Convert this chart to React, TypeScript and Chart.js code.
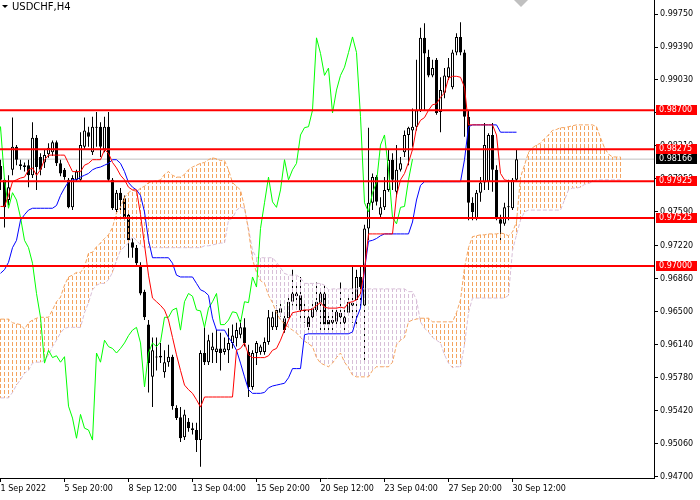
import { useEffect, useRef } from 'react';
import { Chart, registerables } from 'chart.js';

Chart.register(...registerables);

// USDCHF H4, 1 Sep - 30 Sep 2022, one entry per bar
const xTickIdx = [0, 16, 32, 48, 64, 80, 96, 112, 128];
const xTickText = ['1 Sep 2022', '5 Sep 20:00', '8 Sep 12:00', '13 Sep 04:00', '15 Sep 20:00', '20 Sep 12:00', '23 Sep 04:00', '27 Sep 20:00', '30 Sep 12:00'];
const yTicks = [0.9975, 0.9939, 0.9903, 0.9867, 0.9831, 0.9795, 0.9759, 0.9722, 0.9686, 0.965, 0.9614, 0.9578, 0.9542, 0.9506, 0.947];

const levels = [0.987, 0.98275, 0.97925, 0.97525, 0.97];
const bid = 0.98166;

const opens = [
  0.9809, 0.9794, 0.9772, 0.9805, 0.9830, 0.9811, 0.9810, 0.9810, 0.9799, 0.9840,
  0.9819, 0.9813, 0.9822, 0.9824, 0.9835, 0.9812, 0.9805, 0.9794, 0.9764, 0.9794,
  0.9794, 0.9830, 0.9846, 0.9824, 0.9851, 0.9852, 0.9827, 0.9852, 0.9794, 0.9761,
  0.9780, 0.9774, 0.9756, 0.9726, 0.9720, 0.9701, 0.9672, 0.9636, 0.9579, 0.9601,
  0.9600, 0.9584, 0.9595, 0.9601, 0.9545, 0.9535, 0.9513, 0.9530, 0.9523, 0.9521,
  0.9510, 0.9605, 0.9595, 0.9608, 0.9606, 0.9610, 0.9606, 0.9608, 0.9616, 0.9621,
  0.9625, 0.9633, 0.9606, 0.9568, 0.9605, 0.9606, 0.9606, 0.9617, 0.9633, 0.9633,
  0.9649, 0.9643, 0.9643, 0.9661, 0.9670, 0.9668, 0.9652, 0.9644, 0.9644, 0.9652,
  0.9660, 0.9670, 0.9641, 0.9638, 0.9639, 0.9644, 0.9644, 0.9649, 0.9657, 0.9663,
  0.9688, 0.9657, 0.9741, 0.9769, 0.9797, 0.9756, 0.9764, 0.9783, 0.9816, 0.9781,
  0.9805, 0.9824, 0.9843, 0.9848, 0.9852, 0.9870, 0.9949, 0.9928, 0.9908, 0.9925,
  0.9868, 0.9889, 0.9906, 0.9895, 0.9933, 0.9950, 0.9933, 0.9863, 0.9769, 0.9752,
  0.9780, 0.9791, 0.9792, 0.9843, 0.9805, 0.9751, 0.9746, 0.9764, 0.9763, 0.9794,
];
const highs = [
  0.9816, 0.9796, 0.9799, 0.9862, 0.9832, 0.9816, 0.9813, 0.9816, 0.9857, 0.9843,
  0.9823, 0.9827, 0.9834, 0.9837, 0.9837, 0.9816, 0.9807, 0.9796, 0.9799, 0.9805,
  0.9846, 0.9862, 0.9852, 0.9863, 0.9868, 0.9857, 0.9863, 0.9868, 0.9796, 0.9783,
  0.9785, 0.9777, 0.9759, 0.9730, 0.9723, 0.9704, 0.9674, 0.9641, 0.9622, 0.9622,
  0.9616, 0.9608, 0.9614, 0.9603, 0.9548, 0.9546, 0.9543, 0.9534, 0.9529, 0.9529,
  0.9608, 0.9633, 0.9625, 0.9627, 0.9630, 0.9627, 0.9622, 0.9632, 0.9636, 0.9638,
  0.9641, 0.9643, 0.9614, 0.9608, 0.9618, 0.9614, 0.9622, 0.9652, 0.9650, 0.9657,
  0.9660, 0.9646, 0.9666, 0.9696, 0.9681, 0.9688, 0.9660, 0.9652, 0.9660, 0.9682,
  0.9674, 0.9679, 0.9646, 0.9652, 0.9655, 0.9682, 0.9652, 0.9665, 0.9699, 0.9696,
  0.9699, 0.9745, 0.9851, 0.9801, 0.9799, 0.9775, 0.9797, 0.9827, 0.9823, 0.9832,
  0.9819, 0.9848, 0.9852, 0.9872, 0.9925, 0.9960, 0.9965, 0.9936, 0.9925, 0.9927,
  0.9906, 0.9916, 0.9927, 0.9936, 0.9954, 0.9966, 0.9936, 0.9870, 0.9775, 0.9783,
  0.9797, 0.9856, 0.9845, 0.9856, 0.9810, 0.9756, 0.9769, 0.9794, 0.9796, 0.9827,
];
const lows = [
  0.9783, 0.9742, 0.9766, 0.9799, 0.9810, 0.9805, 0.9803, 0.9786, 0.9796, 0.9783,
  0.9799, 0.9807, 0.9818, 0.9820, 0.9809, 0.9798, 0.9794, 0.9763, 0.9761, 0.9792,
  0.9792, 0.9827, 0.9830, 0.9821, 0.9830, 0.9819, 0.9824, 0.9792, 0.9761, 0.9759,
  0.9761, 0.9750, 0.9709, 0.9709, 0.9700, 0.9668, 0.9641, 0.9562, 0.9546, 0.9586,
  0.9594, 0.9578, 0.9590, 0.9543, 0.9532, 0.9508, 0.9510, 0.9519, 0.9516, 0.9497,
  0.9481, 0.9592, 0.9592, 0.9594, 0.9594, 0.9586, 0.9603, 0.9594, 0.9610, 0.9612,
  0.9621, 0.9612, 0.9557, 0.9565, 0.9592, 0.9603, 0.9603, 0.9614, 0.9630, 0.9630,
  0.9645, 0.9627, 0.9641, 0.9657, 0.9652, 0.9639, 0.9638, 0.9630, 0.9641, 0.9650,
  0.9630, 0.9628, 0.9630, 0.9630, 0.9636, 0.9633, 0.9627, 0.9646, 0.9638, 0.9633,
  0.9655, 0.9594, 0.9728, 0.9761, 0.9766, 0.9753, 0.9761, 0.9781, 0.9783, 0.9775,
  0.9803, 0.9819, 0.9810, 0.9830, 0.9848, 0.9868, 0.9870, 0.9906, 0.9906, 0.9865,
  0.9846, 0.9883, 0.9903, 0.9893, 0.9930, 0.9930, 0.9841, 0.9750, 0.9750, 0.9750,
  0.9770, 0.9783, 0.9783, 0.9781, 0.9750, 0.9728, 0.9744, 0.9750, 0.9761, 0.9792,
];
const closes = [
  0.9794, 0.9764, 0.9786, 0.9830, 0.9816, 0.9809, 0.9808, 0.9799, 0.9840, 0.9808,
  0.9805, 0.9821, 0.9829, 0.9835, 0.9812, 0.9801, 0.9797, 0.9764, 0.9796, 0.9803,
  0.9832, 0.9848, 0.9841, 0.9852, 0.9852, 0.9830, 0.9852, 0.9794, 0.9763, 0.9780,
  0.9772, 0.9753, 0.9728, 0.9720, 0.9703, 0.9670, 0.9644, 0.9594, 0.9608, 0.9600,
  0.9602, 0.9595, 0.9601, 0.9547, 0.9534, 0.9512, 0.9538, 0.9523, 0.9521, 0.9510,
  0.9605, 0.9595, 0.9619, 0.9612, 0.9610, 0.9605, 0.9610, 0.9616, 0.9624, 0.9630,
  0.9633, 0.9616, 0.9568, 0.9605, 0.9616, 0.9612, 0.9617, 0.9644, 0.9644, 0.9652,
  0.9654, 0.9630, 0.9661, 0.9670, 0.9667, 0.9652, 0.9651, 0.9633, 0.9654, 0.9661,
  0.9670, 0.9636, 0.9636, 0.9641, 0.9650, 0.9649, 0.9638, 0.9661, 0.9660, 0.9688,
  0.9677, 0.9741, 0.9769, 0.9797, 0.9770, 0.9764, 0.9783, 0.9816, 0.9794, 0.9805,
  0.9812, 0.9843, 0.9851, 0.9852, 0.9870, 0.9949, 0.9932, 0.9908, 0.9916, 0.9867,
  0.9892, 0.9908, 0.9917, 0.9933, 0.9950, 0.9933, 0.9863, 0.9769, 0.9759, 0.9780,
  0.9791, 0.9832, 0.9843, 0.9805, 0.9753, 0.9746, 0.9764, 0.9765, 0.9794, 0.98166,
];

// Ichimoku (9, 26, 52)
const tenkan = [
  0.9765, 0.9765, 0.9777, 0.9792, 0.9794, 0.9796, 0.9797, 0.9805, 0.9807, 0.9799,
  0.9805, 0.9816, 0.9821, 0.9821, 0.9821, 0.9821, 0.9821, 0.9812, 0.9803, 0.9803,
  0.9803, 0.9810, 0.9812, 0.9816, 0.9816, 0.9816, 0.9827, 0.9823, 0.9813, 0.9807,
  0.9799, 0.9794, 0.9786, 0.9783, 0.9783, 0.9756, 0.9723, 0.9690, 0.9665, 0.9661,
  0.9657, 0.9652, 0.9641, 0.9622, 0.9603, 0.9586, 0.9570, 0.9565, 0.9561, 0.9554,
  0.9546, 0.9557, 0.9557, 0.9557, 0.9557, 0.9557, 0.9557, 0.9557, 0.9557, 0.9608,
  0.9610, 0.9616, 0.9603, 0.9600, 0.9600, 0.9600, 0.9600, 0.9602, 0.9608, 0.9610,
  0.9619, 0.9630, 0.9641, 0.9649, 0.9650, 0.9651, 0.9652, 0.9652, 0.9653, 0.9657,
  0.9660, 0.9655, 0.9654, 0.9654, 0.9654, 0.9655, 0.9654, 0.9660, 0.9661, 0.9663,
  0.9670, 0.9696, 0.9735, 0.9735, 0.9735, 0.9735, 0.9735, 0.9735, 0.9735, 0.9777,
  0.9794, 0.9801, 0.9813, 0.9827, 0.9851, 0.9859, 0.9862, 0.9870, 0.9876, 0.9877,
  0.9884, 0.9889, 0.9905, 0.9907, 0.9907, 0.9906, 0.9895, 0.9854, 0.9854, 0.9854,
  0.9854, 0.9854, 0.9854, 0.9854, 0.9843, 0.9801, 0.9794, 0.9793, 0.9793, 0.9793,
];
const kijun = [
  0.9692, 0.9696, 0.9704, 0.9720, 0.9728, 0.9750, 0.9756, 0.9761, 0.9763, 0.9763,
  0.9763, 0.9763, 0.9763, 0.9763, 0.9766, 0.9777, 0.9785, 0.9792, 0.9794, 0.9794,
  0.9797, 0.9799, 0.9801, 0.9805, 0.9807, 0.9808, 0.9810, 0.9812, 0.9816, 0.9816,
  0.9812, 0.9803, 0.9791, 0.9786, 0.9783, 0.9777, 0.9759, 0.9728, 0.9709, 0.9709,
  0.9709, 0.9709, 0.9709, 0.9703, 0.9690, 0.9688, 0.9688, 0.9688, 0.9688, 0.9681,
  0.9674, 0.9672, 0.9668, 0.9643, 0.9630, 0.9630, 0.9630, 0.9622, 0.9616, 0.9608,
  0.9594, 0.9579, 0.9565, 0.9561, 0.9561, 0.9561, 0.9562, 0.9567, 0.9569, 0.9570,
  0.9571, 0.9572, 0.9578, 0.9588, 0.9588, 0.9588, 0.9625, 0.9626, 0.9626, 0.9626,
  0.9626, 0.9626, 0.9626, 0.9626, 0.9626, 0.9626, 0.9626, 0.9626, 0.9628, 0.9643,
  0.9654, 0.9696, 0.9727, 0.9728, 0.9730, 0.9733, 0.9735, 0.9735, 0.9735, 0.9735,
  0.9735, 0.9735, 0.9735, 0.9748, 0.9772, 0.9788, 0.9792, 0.9792, 0.9792, 0.9792,
  0.9792, 0.9792, 0.9792, 0.9792, 0.9792, 0.9792, 0.9816, 0.9852, 0.9854, 0.9854,
  0.9854, 0.9854, 0.9854, 0.9854, 0.9854, 0.9846, 0.9846, 0.9846, 0.9846, 0.9846,
];
// senkou spans run 26 bars past the last candle
const spanA = [
  0.9642, 0.9642, 0.9642, 0.9638, 0.9637, 0.9636, 0.9631, 0.9638, 0.9641, 0.9643,
  0.9644, 0.9644, 0.9644, 0.9652, 0.9661, 0.9666, 0.9679, 0.9688, 0.9690, 0.9693,
  0.9693, 0.9699, 0.9714, 0.9715, 0.9721, 0.9725, 0.9730, 0.9734, 0.9742, 0.9758,
  0.9764, 0.9775, 0.9780, 0.9783, 0.9781, 0.9785, 0.9787, 0.9791, 0.9792, 0.9793,
  0.9794, 0.9800, 0.9803, 0.9799, 0.9797, 0.9797, 0.9800, 0.9805, 0.9808, 0.9810,
  0.9812, 0.9813, 0.9816, 0.9818, 0.9817, 0.9815, 0.9815, 0.9805, 0.9791, 0.9787,
  0.9783, 0.9764, 0.9739, 0.9707, 0.9693, 0.9684, 0.9681, 0.9668, 0.9660, 0.9649,
  0.9641, 0.9637, 0.9633, 0.9630, 0.9627, 0.9622, 0.9618, 0.9615, 0.9612, 0.9600,
  0.9594, 0.9592, 0.9590, 0.9594, 0.9600, 0.9605, 0.9595, 0.9589, 0.9581, 0.9579,
  0.9579, 0.9579, 0.9579, 0.9586, 0.9590, 0.9590, 0.9590, 0.9590, 0.9595, 0.9614,
  0.9619, 0.9622, 0.9639, 0.9641, 0.9642, 0.9643, 0.9643, 0.9643, 0.9639, 0.9639,
  0.9639, 0.9639, 0.9639, 0.9639, 0.9649, 0.9663, 0.9698, 0.9720, 0.9732, 0.9733,
  0.9734, 0.9734, 0.9735, 0.9735, 0.9735, 0.9736, 0.9735, 0.9733, 0.9737, 0.9748,
  0.9797, 0.9810, 0.9824, 0.9829, 0.9832, 0.9834, 0.9839, 0.9843, 0.9848, 0.9849,
  0.9851, 0.9851, 0.9852, 0.9853, 0.9854, 0.9854, 0.9854, 0.9854, 0.9854, 0.9852,
  0.9840, 0.9829, 0.9822, 0.9819, 0.9819, 0.9819,
];
const spanB = [
  0.9556, 0.9556, 0.9556, 0.9562, 0.9570, 0.9576, 0.9583, 0.9586, 0.9594, 0.9595,
  0.9595, 0.9597, 0.9603, 0.9612, 0.9619, 0.9627, 0.9632, 0.9633, 0.9633, 0.9633,
  0.9633, 0.9649, 0.9660, 0.9674, 0.9679, 0.9681, 0.9681, 0.9685, 0.9693, 0.9706,
  0.9717, 0.9721, 0.9725, 0.9732, 0.9728, 0.9723, 0.9720, 0.9720, 0.9720, 0.9720,
  0.9720, 0.9720, 0.9720, 0.9720, 0.9720, 0.9720, 0.9720, 0.9720, 0.9720, 0.9720,
  0.9720, 0.9722, 0.9722, 0.9723, 0.9724, 0.9725, 0.9725, 0.9750, 0.9752, 0.9761,
  0.9764, 0.9763, 0.9741, 0.9717, 0.9709, 0.9709, 0.9709, 0.9709, 0.9709, 0.9704,
  0.9698, 0.9692, 0.9690, 0.9690, 0.9690, 0.9687, 0.9681, 0.9681, 0.9681, 0.9681,
  0.9681, 0.9679, 0.9674, 0.9675, 0.9675, 0.9675, 0.9675, 0.9675, 0.9675, 0.9675,
  0.9675, 0.9675, 0.9675, 0.9675, 0.9675, 0.9675, 0.9675, 0.9675, 0.9675, 0.9675,
  0.9675, 0.9675, 0.9672, 0.9672, 0.9663, 0.9639, 0.9632, 0.9628, 0.9622, 0.9619,
  0.9616, 0.9603, 0.9594, 0.9589, 0.9590, 0.9590, 0.9614, 0.9649, 0.9665, 0.9665,
  0.9665, 0.9665, 0.9665, 0.9665, 0.9665, 0.9665, 0.9665, 0.9668, 0.9717, 0.9734,
  0.9750, 0.9759, 0.9761, 0.9761, 0.9761, 0.9761, 0.9761, 0.9761, 0.9761, 0.9761,
  0.9761, 0.9772, 0.9783, 0.9785, 0.9785, 0.9786, 0.9789, 0.9790, 0.9792, 0.9794,
  0.9794, 0.9794, 0.9794, 0.9794, 0.9794, 0.9794,
];
const chikouShift = 26;

const FONT = "'DejaVu Sans', sans-serif";

function dashPattern(ctx: CanvasRenderingContext2D, color: string) {
  const c = document.createElement('canvas');
  c.width = 1;
  c.height = 6;
  const g = c.getContext('2d')!;
  g.fillStyle = color;
  g.fillRect(0, 0, 1, 4);
  return ctx.createPattern(c, 'repeat')!;
}

// keep the plot flush with the top edge and the axes a fixed size
const fixSize = (size: 'width' | 'height', px: number) => (s: any) => {
  s[size] = px;
  s.paddingTop = 0;
  s.paddingBottom = 0;
  s.paddingLeft = 0;
  s.paddingRight = 0;
};

const overlay = {
  id: 'overlay',
  afterDraw(chart: any) {
    const { ctx, scales } = chart;
    const y = scales.y;
    const x = scales.x;
    ctx.save();

    // symbol caption
    ctx.fillStyle = '#000';
    ctx.beginPath();
    ctx.moveTo(2, 5);
    ctx.lineTo(8, 5);
    ctx.lineTo(5, 8);
    ctx.closePath();
    ctx.fill();
    ctx.font = `10px ${FONT}`;
    ctx.textBaseline = 'middle';
    ctx.fillText('USDCHF,H4', 12, 7);

    // chart shift marker
    const sx = Math.round(x.getPixelForValue(closes.length));
    ctx.fillStyle = '#c0c0c0';
    ctx.beginPath();
    ctx.moveTo(sx - 7, 0);
    ctx.lineTo(sx + 7, 0);
    ctx.lineTo(sx, 7);
    ctx.closePath();
    ctx.fill();

    // price tags on the axis
    ctx.font = `8px ${FONT}`;
    const tag = (v: number, bg: string) => {
      const py = Math.round(y.getPixelForValue(v));
      ctx.fillStyle = bg;
      ctx.fillRect(656, py - 5, 41, 10);
      ctx.fillStyle = '#fff';
      ctx.fillText(v.toFixed(5), 659, py);
    };
    levels.forEach((v) => tag(v, '#ff0000'));
    tag(bid, '#000000');
    ctx.restore();
  },
};

export default function App() {
  const canvasRef = useRef<HTMLCanvasElement>(null);
  const chartRef = useRef<Chart | null>(null);

  useEffect(() => {
    document.body.style.margin = '0';
    if (!canvasRef.current) return;
    const ctx = canvasRef.current.getContext('2d');
    if (!ctx) return;
    if (chartRef.current) chartRef.current.destroy();

    const up = dashPattern(ctx, '#f4a460');
    const down = dashPattern(ctx, '#d8bfd8');

    const line = (data: number[], color: string, shift: number, order: number, dash: number[] = []) => ({
      type: 'line' as const,
      data: data.map((v, i) => ({ x: i + shift, y: v })),
      borderColor: color,
      borderWidth: 1,
      borderDash: dash,
      pointRadius: 0,
      tension: 0,
      fill: false,
      order,
    });

    const datasets: any[] = [
      ...levels.map((v) => ({
        type: 'line',
        data: [{ x: -1, y: v }, { x: 165, y: v }],
        borderColor: '#ff0000',
        borderWidth: 2,
        pointRadius: 0,
        clip: 0,
        order: 0,
      })),
      {
        type: 'line',
        data: [{ x: -1, y: bid }, { x: 165, y: bid }],
        borderColor: '#c0c0c0',
        borderWidth: 1,
        pointRadius: 0,
        clip: 0,
        order: 10,
      },
      line(tenkan, '#ff0000', 0, 2),
      line(kijun, '#0000ff', 0, 2),
      line(closes, '#00ff00', -chikouShift, 2),
      line(spanA, '#f4a460', 0, 6, [4, 2]),
      line(spanB, '#d8bfd8', 0, 6, [4, 2]),
      {
        type: 'bar',
        data: spanA.map((a, i) => ({ x: i, y: [a, spanB[i]] })),
        backgroundColor: spanA.map((a, i) => (a >= spanB[i] ? up : down)),
        borderWidth: 0,
        barThickness: 1,
        grouped: false,
        inflateAmount: 0,
        order: 7,
      },
      {
        type: 'bar',
        data: closes.map((c, i) => ({ x: i, y: [opens[i], c] })),
        backgroundColor: closes.map((c, i) => (c >= opens[i] ? '#ffffff' : '#000000')),
        borderColor: '#000000',
        borderWidth: 1,
        borderSkipped: false,
        barThickness: 3,
        minBarLength: 1,
        grouped: false,
        inflateAmount: 0,
        order: 8,
      },
      {
        type: 'bar',
        data: closes.map((_, i) => ({ x: i, y: [lows[i], highs[i]] })),
        backgroundColor: '#000000',
        borderWidth: 0,
        barThickness: 1,
        grouped: false,
        inflateAmount: 0,
        order: 9,
      },
    ];

    chartRef.current = new Chart(ctx, {
      type: 'line',
      data: { datasets },
      options: {
        animation: false,
        responsive: false,
        devicePixelRatio: 1,
        events: [],
        layout: { padding: 0, autoPadding: false },
        plugins: { legend: { display: false }, tooltip: { enabled: false } },
        scales: {
          x: {
            type: 'linear',
            position: 'bottom',
            min: -0.125,
            max: 163.375,
            offset: false,
            afterBuildTicks: (s: any) => {
              s.ticks = xTickIdx.map((v) => ({ value: v }));
            },
            afterFit: fixSize('height', 22),
            grid: { drawOnChartArea: false, drawTicks: true, tickLength: 4, color: '#000', offset: false },
            border: { display: true, color: '#000' },
            ticks: {
              autoSkip: false,
              maxRotation: 0,
              align: 'start',
              padding: 2,
              color: '#000',
              font: { family: FONT, size: 8 },
              callback: (v: any) => xTickText[xTickIdx.indexOf(Number(v))] ?? '',
            },
          },
          y: {
            type: 'linear',
            position: 'right',
            min: 0.94686,
            max: 0.99903,
            afterBuildTicks: (s: any) => {
              s.ticks = yTicks.map((v) => ({ value: v }));
            },
            afterFit: fixSize('width', 46),
            grid: { drawOnChartArea: false, drawTicks: true, tickLength: 4, color: '#000' },
            border: { display: true, color: '#000' },
            ticks: {
              padding: 2,
              color: '#000',
              font: { family: FONT, size: 8 },
              callback: (v: any) => Number(v).toFixed(5),
            },
          },
        },
      } as any,
      plugins: [overlay],
    });

    return () => {
      if (chartRef.current) {
        chartRef.current.destroy();
        chartRef.current = null;
      }
    };
  }, []);

  return (
    <div style={{ width: 700, height: 500, background: '#fff' }}>
      <canvas ref={canvasRef} width={700} height={500} style={{ display: 'block' }} />
    </div>
  );
}
